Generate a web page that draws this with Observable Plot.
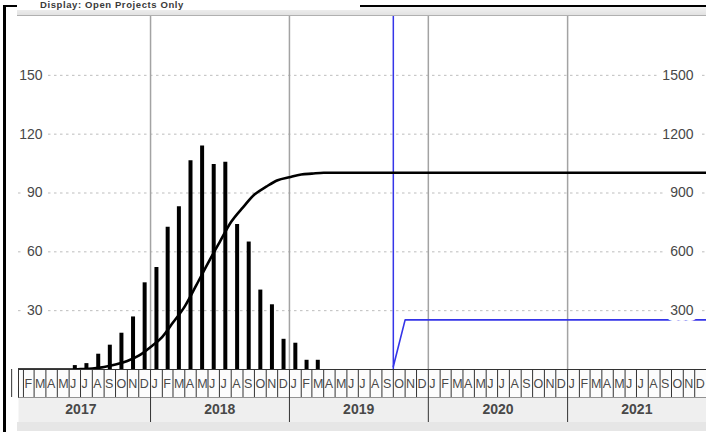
<!DOCTYPE html>
<html><head><meta charset="utf-8">
<script src="https://cdn.jsdelivr.net/npm/d3@7"></script>
<script src="https://cdn.jsdelivr.net/npm/@observablehq/plot@0.6"></script>
<style>
html,body{margin:0;padding:0;background:#fff;}
#wrap{position:relative;width:706px;height:432px;overflow:hidden;background:#fff;font-family:Arial,"Liberation Sans",sans-serif;}
#wrap svg{display:block;}
.abs{position:absolute;}
</style></head><body>
<div id="wrap">
  <div class="abs" style="left:17px;top:7px;width:689px;height:8px;background:linear-gradient(#f2f2f2,#e2e2e2);border-bottom:1px solid #b0b0b0;"></div>
  <div class="abs" style="left:360px;top:5px;width:346px;height:2px;background:#000;"></div>
  <div class="abs" style="left:3px;top:5px;width:14px;height:2px;background:#000;"></div>
  <div class="abs" style="left:17px;top:0px;width:343px;height:10px;background:#fff;">
    <div style="position:absolute;left:23px;top:0px;font:bold 9.5px Arial,'Liberation Sans',sans-serif;line-height:10px;color:#3a3a3a;white-space:nowrap;letter-spacing:0.6px;">Display: Open Projects Only</div>
  </div>
  <div id="main" class="abs" style="left:0;top:16px;"></div>
  <div id="months" class="abs" style="left:0;top:369px;"></div>
  <div id="years" class="abs" style="left:0;top:397px;"></div>
  <div class="abs" style="left:17px;top:422px;width:689px;height:9px;background:#e6e6e6;"></div>
  <div class="abs" style="left:3px;top:5px;width:2.5px;height:427px;background:#000;"></div>
</div>
<script>
// ---- data ----
const barMonths = ["2017-06","2017-07","2017-08","2017-09","2017-10","2017-11","2017-12",
  "2018-01","2018-02","2018-03","2018-04","2018-05","2018-06","2018-07","2018-08","2018-09","2018-10","2018-11","2018-12",
  "2019-01","2019-02","2019-03"];
const barValues = [2, 3, 7.8, 12.4, 18.5, 26.8, 44.2,
  52, 72.5, 83, 106.5, 114, 104.5, 105.7, 74, 65, 40.5, 33, 15.4,
  13.4, 4.7, 4.7];
const blueDates = ["2019-10-01","2019-11-01","2022-01-01"];
const blueValues = [15, 253, 253];          // right-axis units
const dataDate = "2019-10-01";
const leftTicks = [30, 60, 90, 120, 150];
const rightTicks = [300, 600, 900, 1200, 1500];
const rightPerLeft = 10;                    // right axis 0–1800 vs left axis 0–180
const yearLabels = ["2017","2018","2019","2020","2021"];
const monthLetters = ["J","F","M","A","M","J","J","A","S","O","N","D"];
const xStart = "2017-01-19", xEnd = "2022-01-01";

// ---- build ----
const parseM = d3.utcParse("%Y-%m");
const parseD = d3.utcParse("%Y-%m-%d");
const xDomain = [parseD(xStart), parseD(xEnd)];
const bars = barMonths.map((m, i) => ({date: parseM(m), v: barValues[i]}));
const byMonth = new Map(bars.map(d => [+d.date, d.v]));
const allMonths = d3.utcMonths(parseD(yearLabels[0] + "-01-01"), parseD(xEnd));
const cumData = [{date: allMonths[0], v: 0}].concat(
  allMonths.map(m => ({date: d3.utcMonth.offset(m, 1), v: byMonth.get(+m) || 0})));
const blue = blueDates.map((d, i) => ({date: parseD(d), v: blueValues[i]}));
const yearStarts = yearLabels.map(y => parseD(y + "-01-01"));
const BLUE = "#3535e8";
const FONT = "Arial, 'Liberation Sans', sans-serif";
const W = 706;
const common = {width: W, marginLeft: 18, marginRight: 0, marginTop: 0, marginBottom: 0,
  x: {type: "utc", domain: xDomain, axis: null},
  style: {background: "transparent", fontFamily: FONT, overflow: "visible"}};

const main = Plot.plot({
  ...common,
  height: 354, marginBottom: 1,
  y: {domain: [0, 180], axis: null},
  marks: [
    Plot.ruleY(leftTicks, {stroke: "#bdbdbd", strokeDasharray: "2.5,3.5", strokeWidth: 1}),
    Plot.ruleX(yearStarts.slice(1), {stroke: "#a3a3a3", strokeWidth: 1.5}),
    Plot.ruleX(bars, {x: d => new Date((+d.date + +d3.utcMonth.offset(d.date, 1)) / 2), y: "v", stroke: "#000", strokeWidth: 4}),
    Plot.ruleX([parseD(dataDate)], {stroke: BLUE, strokeWidth: 1.5}),
    Plot.lineY(blue, {x: "date", y: d => d.v / rightPerLeft, stroke: BLUE, strokeWidth: 1.6, clip: true}),
    Plot.lineY(cumData, Plot.mapY(V => d3.cumsum(V).map(c => c / rightPerLeft),
      {x: "date", y: "v", curve: "monotone-x", stroke: "#000", strokeWidth: 2.6, clip: true})),
    Plot.text(leftTicks, {y: d => d, text: d => String(d), frameAnchor: "left", dx: 24, textAnchor: "end",
      fill: "#474747", stroke: "#fff", strokeWidth: 10, paintOrder: "stroke", fontSize: 14}),
    Plot.text(rightTicks, {y: d => d / rightPerLeft, text: d => String(d), frameAnchor: "right", dx: -13, textAnchor: "end",
      fill: "#474747", stroke: "#fff", strokeWidth: 12, paintOrder: "stroke", fontSize: 14})
  ]
});
document.getElementById("main").appendChild(main);

const months = Plot.plot({
  ...common,
  height: 28,
  marks: [
    Plot.frame({stroke: "#333", fill: "#fcfcfc"}),
    Plot.ruleX(allMonths, {stroke: "#333", strokeWidth: 1}),
    Plot.text(allMonths, {x: d => d, text: d => monthLetters[d.getUTCMonth()], frameAnchor: "middle",
      textAnchor: "start", dx: 1, fontSize: 12.5, fill: "#4a4a4a", clip: true, fontFamily: FONT})
  ]
});
document.getElementById("months").appendChild(months);

const years = Plot.plot({
  ...common,
  height: 25,
  marks: [
    Plot.frame({stroke: null, fill: "#efefef"}),
    Plot.ruleX(yearStarts.slice(1), {stroke: "#333", strokeWidth: 1}),
    Plot.text(yearLabels, {x: y => parseD(y + "-07-02"), text: y => y, frameAnchor: "middle",
      fontSize: 14, fontWeight: "bold", fill: "#484848"})
  ]
});
document.getElementById("years").appendChild(years);
</script>
</body></html>
